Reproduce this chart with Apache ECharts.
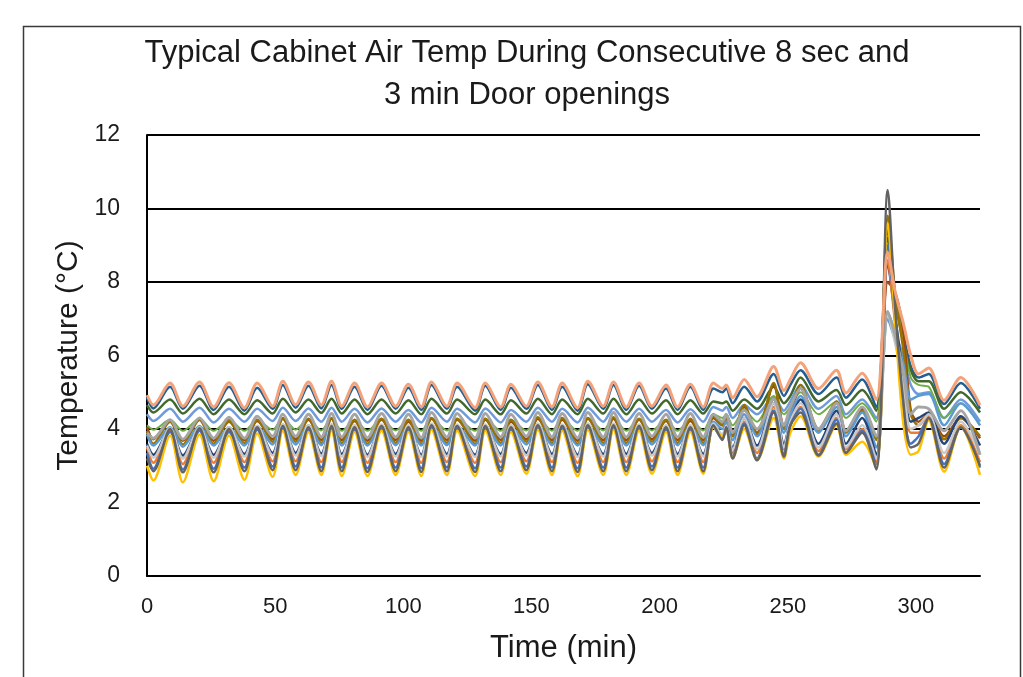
<!DOCTYPE html>
<html>
<head>
<meta charset="utf-8">
<title>Typical Cabinet Air Temp</title>
<script src="https://cdn.jsdelivr.net/npm/echarts@6.0.0/dist/echarts.min.js"></script>
<style>
  html, body { margin: 0; padding: 0; background: #fff; }
  #chart { width: 1023px; height: 677px; }
</style>
</head>
<body>
<div id="chart"></div>
<script>
// sample times (min), turning points
const times = [
  0, 2.5, 9, 14, 20.5, 26, 32, 38, 43, 49, 53, 58, 63, 68, 72, 76, 81, 86, 91.5, 97, 102, 107,
  111, 117, 121, 128, 132, 138, 142, 148, 152.5, 158, 162, 168, 172, 178, 182, 187, 192, 197, 202.5, 207, 212, 217,
  221, 224.5, 226, 228.5, 233, 238, 244.5, 248.5, 251, 255, 262, 269, 272.7, 279, 284.5,
  289, 292, 295, 298, 301, 305, 311, 317.5, 325
]

const xTicks = [0, 50, 100, 150, 200, 250, 300]
const yTicks = [0, 2, 4, 6, 8, 10, 12]

// temperatures (°C), one array per sensor
const tOrangeLight = [
  4.92, 4.65, 5.25, 4.62, 5.28, 4.6, 5.26, 4.58, 5.25, 4.62, 5.3, 4.66, 5.28, 4.65, 5.3, 4.62, 5.25, 4.6, 5.25, 4.62, 5.22, 4.6,
  5.28, 4.62, 5.25, 4.58, 5.25, 4.6, 5.22, 4.62, 5.28, 4.6, 5.25, 4.58, 5.3, 4.62, 5.28, 4.6, 5.25, 4.62, 5.2, 4.6, 5.22, 4.6,
  5.25, 5.1, 5.2, 4.85, 5.35, 4.88, 5.7, 5.05, 5.35, 5.8, 5.1, 5.6, 4.98, 5.52, 4.8,
  8.8, 7.7, 6.9, 6.0, 5.5, 5.66, 4.78, 5.4, 4.65
]
const tDarkBlue = [
  4.85, 4.56, 5.15, 4.55, 5.18, 4.52, 5.15, 4.5, 5.12, 4.55, 5.2, 4.58, 5.18, 4.56, 5.2, 4.55, 5.15, 4.52, 5.18, 4.55, 5.12, 4.52,
  5.2, 4.55, 5.15, 4.5, 5.18, 4.52, 5.12, 4.55, 5.2, 4.52, 5.15, 4.5, 5.22, 4.55, 5.2, 4.52, 5.18, 4.55, 5.1, 4.52, 5.15, 4.52,
  5.1, 5.0, 5.1, 4.7, 5.15, 4.75, 5.5, 4.9, 5.2, 5.6, 4.95, 5.4, 4.85, 5.35, 4.6,
  9.2, 7.4, 6.6, 5.7, 5.4, 5.5, 4.68, 5.25, 4.55
]
const tDarkGreen = [
  4.65, 4.45, 4.8, 4.42, 4.82, 4.4, 4.8, 4.4, 4.78, 4.42, 4.82, 4.45, 4.8, 4.44, 4.82, 4.42, 4.8, 4.4, 4.8, 4.42, 4.78, 4.4,
  4.82, 4.42, 4.8, 4.4, 4.8, 4.4, 4.78, 4.42, 4.82, 4.4, 4.8, 4.4, 4.82, 4.42, 4.82, 4.4, 4.8, 4.42, 4.78, 4.4, 4.78, 4.42,
  4.75, 4.7, 4.75, 4.5, 4.8, 4.55, 5.15, 4.7, 4.9, 5.4, 4.75, 5.06, 4.65, 5.06, 4.5,
  9.4, 7.5, 6.4, 5.6, 5.3, 5.3, 4.55, 5.0, 4.45
]
const tCornflower = [
  4.4, 4.22, 4.55, 4.2, 4.58, 4.18, 4.55, 4.2, 4.55, 4.22, 4.58, 4.22, 4.56, 4.2, 4.58, 4.2, 4.55, 4.18, 4.56, 4.2, 4.52, 4.18,
  4.58, 4.2, 4.55, 4.18, 4.56, 4.18, 4.52, 4.2, 4.58, 4.2, 4.55, 4.18, 4.58, 4.2, 4.56, 4.2, 4.55, 4.2, 4.52, 4.18, 4.54, 4.2,
  4.6, 4.5, 4.6, 4.3, 4.65, 4.4, 4.88, 4.5, 4.75, 5.2, 4.55, 4.9, 4.4, 4.8, 4.3,
  7.2, 6.6, 6.0, 5.2, 4.95, 5.0, 4.3, 4.8, 4.2
]
const tLightGreen = [
  4.1, 3.98, 4.25, 3.95, 4.28, 3.95, 4.25, 3.95, 4.25, 3.98, 4.3, 3.98, 4.28, 3.96, 4.3, 3.95, 4.25, 3.95, 4.28, 3.96, 4.25, 3.95,
  4.3, 3.96, 4.28, 3.95, 4.28, 3.95, 4.25, 3.96, 4.3, 3.95, 4.28, 3.95, 4.3, 3.96, 4.3, 3.95, 4.28, 3.96, 4.25, 3.95, 4.26, 3.96,
  4.4, 4.3, 4.4, 4.1, 4.5, 4.2, 4.9, 4.4, 4.6, 5.0, 4.4, 4.75, 4.3, 4.7, 4.2,
  9.6, 7.6, 6.5, 5.4, 5.2, 5.15, 4.3, 4.7, 4.1
]
const tBrown = [
  4.05, 3.72, 4.22, 3.68, 4.25, 3.68, 4.2, 3.7, 4.22, 3.72, 4.28, 3.72, 4.25, 3.7, 4.28, 3.7, 4.22, 3.68, 4.25, 3.7, 4.2, 3.68,
  4.28, 3.7, 4.25, 3.68, 4.25, 3.7, 4.2, 3.72, 4.28, 3.7, 4.25, 3.68, 4.28, 3.7, 4.28, 3.7, 4.25, 3.72, 4.22, 3.7, 4.22, 3.7,
  4.3, 4.1, 4.3, 3.85, 4.6, 3.9, 5.2, 4.1, 4.5, 5.1, 4.0, 4.7, 3.95, 4.55, 3.75,
  8.0, 7.7, 6.7, 4.5, 4.2, 4.4, 3.8, 4.3, 3.75
]
const tGold = [
  3.95, 3.6, 4.2, 3.58, 4.25, 3.6, 4.22, 3.62, 4.25, 3.65, 4.3, 3.65, 4.28, 3.62, 4.3, 3.62, 4.25, 3.6, 4.28, 3.62, 4.25, 3.6,
  4.3, 3.62, 4.28, 3.6, 4.28, 3.62, 4.25, 3.65, 4.32, 3.62, 4.3, 3.6, 4.3, 3.62, 4.32, 3.62, 4.28, 3.65, 4.25, 3.62, 4.28, 3.62,
  4.35, 4.1, 4.35, 3.8, 4.65, 3.85, 5.25, 4.0, 4.5, 5.2, 3.95, 4.75, 3.9, 4.5, 3.7,
  9.8, 7.6, 6.2, 4.4, 4.1, 4.4, 3.72, 4.3, 3.8
]
const tGray = [
  3.9, 3.75, 4.25, 3.72, 4.3, 3.75, 4.32, 3.75, 4.35, 3.8, 4.4, 3.8, 4.4, 3.78, 4.42, 3.78, 4.4, 3.76, 4.42, 3.78, 4.4, 3.76,
  4.45, 3.78, 4.42, 3.76, 4.42, 3.78, 4.4, 3.8, 4.45, 3.78, 4.42, 3.76, 4.45, 3.78, 4.45, 3.78, 4.42, 3.8, 4.4, 3.78, 4.42, 3.78,
  4.4, 4.2, 4.4, 3.9, 4.52, 4.0, 4.8, 4.1, 4.6, 5.1, 4.0, 4.7, 3.95, 4.6, 3.8,
  7.2, 6.5, 5.6, 4.4, 4.6, 4.55, 3.95, 4.5, 3.3
]
const tSkyBlue = [
  3.85, 3.55, 4.05, 3.52, 4.08, 3.55, 4.05, 3.55, 4.08, 3.58, 4.12, 3.58, 4.1, 3.56, 4.12, 3.55, 4.08, 3.55, 4.1, 3.56, 4.08, 3.55,
  4.12, 3.56, 4.1, 3.55, 4.1, 3.55, 4.08, 3.58, 4.12, 3.56, 4.1, 3.55, 4.12, 3.56, 4.12, 3.55, 4.1, 3.58, 4.08, 3.56, 4.08, 3.56,
  4.2, 4.0, 4.2, 3.7, 4.4, 3.8, 4.8, 3.9, 4.4, 4.9, 3.9, 4.6, 3.8, 4.45, 3.5,
  7.0, 6.4, 5.8, 4.8, 4.9, 4.95, 4.1, 4.7, 4.1
]
const tNavy = [
  3.6, 3.3, 4.0, 3.28, 4.02, 3.3, 4.0, 3.32, 4.05, 3.35, 4.08, 3.35, 4.05, 3.33, 4.08, 3.32, 4.05, 3.3, 4.08, 3.32, 4.05, 3.3,
  4.1, 3.32, 4.08, 3.3, 4.08, 3.32, 4.05, 3.35, 4.1, 3.32, 4.08, 3.3, 4.1, 3.32, 4.1, 3.32, 4.08, 3.35, 4.05, 3.32, 4.05, 3.32,
  4.1, 3.8, 4.1, 3.5, 4.3, 3.55, 4.7, 3.6, 4.2, 4.8, 3.6, 4.5, 3.6, 4.3, 3.3,
  8.5, 7.0, 5.5, 4.2, 4.3, 4.45, 3.6, 4.35, 3.55
]
const tOrange = [
  3.5, 3.08, 3.95, 3.05, 3.98, 3.08, 3.95, 3.1, 4.0, 3.12, 4.02, 3.12, 4.0, 3.1, 4.02, 3.1, 4.0, 3.08, 4.02, 3.1, 4.0, 3.08,
  4.05, 3.1, 4.02, 3.08, 4.02, 3.1, 4.0, 3.12, 4.05, 3.1, 4.02, 3.08, 4.05, 3.1, 4.05, 3.1, 4.02, 3.12, 4.0, 3.1, 4.0, 3.1,
  4.1, 3.8, 4.0, 3.35, 4.2, 3.35, 4.6, 3.45, 4.1, 4.6, 3.4, 4.3, 3.45, 4.0, 3.1,
  8.6, 6.8, 5.0, 3.9, 3.9, 4.35, 3.2, 4.1, 3.1
]
const tSilver = [
  3.55, 3.22, 4.02, 3.2, 4.05, 3.22, 4.05, 3.25, 4.08, 3.28, 4.12, 3.28, 4.1, 3.26, 4.12, 3.25, 4.1, 3.24, 4.12, 3.25, 4.1, 3.24,
  4.15, 3.25, 4.12, 3.24, 4.12, 3.25, 4.1, 3.28, 4.15, 3.25, 4.12, 3.24, 4.15, 3.25, 4.15, 3.25, 4.12, 3.28, 4.1, 3.25, 4.1, 3.25,
  4.15, 3.85, 4.1, 3.45, 4.3, 3.45, 4.7, 3.5, 4.2, 4.7, 3.5, 4.4, 3.5, 4.1, 3.2,
  7.1, 6.3, 5.2, 4.0, 4.1, 4.4, 3.35, 4.2, 3.3
]
const tBlue = [
  3.35, 2.92, 3.92, 2.9, 3.95, 2.92, 3.92, 2.95, 3.98, 2.98, 4.0, 2.98, 3.98, 2.95, 4.0, 2.95, 3.98, 2.93, 4.0, 2.95, 3.98, 2.93,
  4.02, 2.95, 4.0, 2.93, 4.0, 2.95, 3.98, 2.98, 4.02, 2.95, 4.0, 2.93, 4.02, 2.95, 4.02, 2.95, 4.0, 2.98, 3.98, 2.95, 3.98, 2.95,
  4.05, 3.75, 4.0, 3.25, 4.15, 3.2, 4.5, 3.3, 4.1, 4.55, 3.3, 4.25, 3.35, 3.95, 3.0,
  9.0, 6.9, 4.6, 3.6, 3.8, 4.3, 3.05, 4.05, 2.95
]
const tDarkGray = [
  3.2, 2.85, 4.0, 2.82, 4.02, 2.82, 4.0, 2.85, 4.05, 2.88, 4.08, 2.88, 4.05, 2.85, 4.08, 2.85, 4.05, 2.83, 4.08, 2.85, 4.05, 2.83,
  4.1, 2.85, 4.08, 2.83, 4.08, 2.85, 4.05, 2.88, 4.1, 2.85, 4.08, 2.83, 4.1, 2.85, 4.1, 2.85, 4.08, 2.88, 4.05, 2.85, 4.05, 2.85,
  4.1, 3.7, 4.05, 3.2, 4.1, 3.15, 4.45, 3.25, 4.1, 4.45, 3.28, 4.15, 3.35, 3.9, 2.9,
  10.5, 7.2, 4.8, 3.5, 3.6, 4.3, 2.95, 4.05, 3.0
]
const tYellow = [
  3.0, 2.6, 3.82, 2.55, 3.85, 2.58, 3.82, 2.62, 3.88, 2.7, 3.95, 2.75, 3.92, 2.75, 3.95, 2.72, 3.92, 2.72, 3.95, 2.75, 3.92, 2.72,
  3.98, 2.75, 3.95, 2.72, 3.95, 2.75, 3.92, 2.78, 3.98, 2.75, 3.95, 2.72, 3.98, 2.75, 3.98, 2.75, 3.95, 2.78, 3.92, 2.75, 3.92, 2.78,
  4.05, 3.8, 4.0, 3.2, 4.0, 3.15, 4.3, 3.2, 3.9, 4.35, 3.25, 4.1, 3.3, 3.65, 2.95,
  9.6, 6.8, 4.2, 3.3, 3.4, 4.24, 2.84, 4.06, 2.75
]

// draw order: later entries sit on top
const sensors = [
  { values: tDarkBlue, color: '#255E91', width: 2.5 },
  { values: tDarkGreen, color: '#43682B', width: 2.5 },
  { values: tCornflower, color: '#6F9BDB', width: 2.5 },
  { values: tLightGreen, color: '#70AD47', width: 2 },
  { values: tBrown, color: '#9E480E', width: 2.5 },
  { values: tGold, color: '#997300', width: 2.5 },
  { values: tSkyBlue, color: '#5B9BD5', width: 2.5 },
  { values: tNavy, color: '#264478', width: 2.5 },
  { values: tOrange, color: '#ED7D31', width: 2.5 },
  { values: tSilver, color: '#C9C9C9', width: 2.5 },
  { values: tBlue, color: '#4472C4', width: 2.5 },
  { values: tYellow, color: '#FFC000', width: 2.5 },
  { values: tGray, color: '#A5A5A5', width: 3 },
  { values: tDarkGray, color: '#636363', width: 2.5 },
  { values: tOrangeLight, color: '#F4A27A', width: 3 }
]

const FONT = 'Liberation Sans, Arial, sans-serif'

const chart = echarts.init(document.getElementById('chart'), null, { renderer: 'canvas' })

chart.setOption({
  animation: false,
  backgroundColor: '#fff',
  title: {
    text: 'Typical Cabinet Air Temp During Consecutive 8 sec and\n3 min Door openings',
    left: 522,
    top: 27,
    textAlign: 'center',
    textStyle: {
      fontFamily: FONT,
      fontSize: 31,
      fontWeight: 'normal',
      color: '#1a1a1a',
      lineHeight: 42
    }
  },
  graphic: [
    {
      type: 'rect',
      shape: { x: 23.5, y: 26.5, width: 997, height: 680 },
      style: { fill: 'none', stroke: '#3a3a3a', lineWidth: 1.5 },
      silent: true,
      z: -1
    }
  ],
  grid: { left: 147, right: 43, top: 135, bottom: 101 },
  xAxis: {
    type: 'value',
    min: 0,
    max: 325,
    interval: 50,
    name: 'Time (min)',
    nameLocation: 'middle',
    nameGap: 57,
    nameTextStyle: { fontFamily: FONT, fontSize: 31, color: '#1a1a1a' },
    axisLine: { show: true, lineStyle: { color: '#000', width: 2 } },
    axisTick: { show: false },
    splitLine: { show: false },
    axisLabel: {
      fontFamily: FONT,
      fontSize: 22,
      color: '#1a1a1a',
      margin: 20,
      showMaxLabel: false,
      formatter: (v) => (xTicks.includes(v) ? String(v) : '')
    }
  },
  yAxis: {
    type: 'value',
    min: yTicks[0],
    max: yTicks[yTicks.length - 1],
    interval: 2,
    name: 'Temperature (°C)',
    nameLocation: 'middle',
    nameGap: 63,
    nameTextStyle: { fontFamily: FONT, fontSize: 30, color: '#1a1a1a' },
    axisLine: { show: true, lineStyle: { color: '#000', width: 2 } },
    axisTick: { show: false },
    splitLine: { show: true, lineStyle: { color: '#000', width: 2 } },
    axisLabel: { fontFamily: FONT, fontSize: 23, color: '#1a1a1a', margin: 27 }
  },
  series: sensors.map((s, k) => ({
    type: 'line',
    name: 'Sensor ' + (k + 1),
    data: times.map((t, i) => [t, s.values[i]]),
    smooth: 0.3,
    symbol: 'none',
    lineStyle: { color: s.color, width: s.width },
    itemStyle: { color: s.color },
    z: 2
  }))
})
</script>
</body>
</html>
